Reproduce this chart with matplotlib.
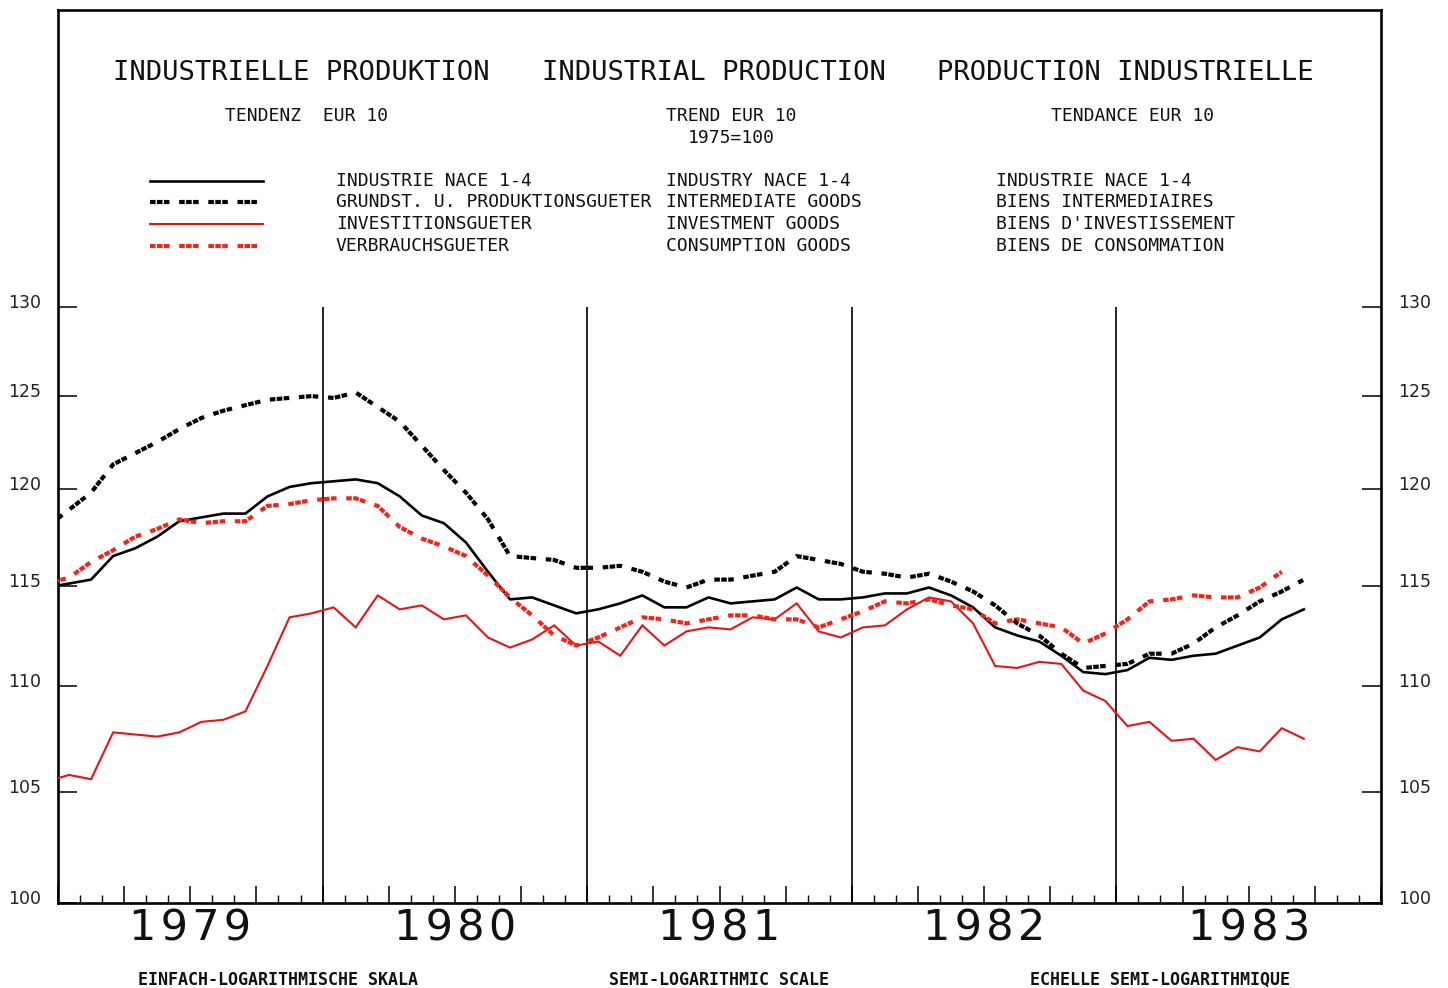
import numpy as np
import matplotlib
matplotlib.use("Agg")
import matplotlib.pyplot as plt
import pandas as pd
from matplotlib.lines import Line2D
from matplotlib.transforms import offset_copy
from matplotlib.ticker import NullLocator

plt.rcParams['lines.scale_dashes'] = False

# ---------------- data (index 1975 = 100, trend, EUR 10) ----------------
months = pd.period_range('1978-12', '1983-09', freq='M')

industry = [114.9, 115.1, 115.3, 116.5, 116.9, 117.5, 118.3, 118.5, 118.7, 118.7,
            119.6, 120.1, 120.3, 120.4, 120.5, 120.3, 119.6, 118.6, 118.2, 117.2,
            115.7, 114.3, 114.4, 114.0, 113.6, 113.8, 114.1, 114.5, 113.9, 113.9,
            114.4, 114.1, 114.2, 114.3, 114.9, 114.3, 114.3, 114.4, 114.6, 114.6,
            114.9, 114.5, 113.9, 112.9, 112.5, 112.2, 111.5, 110.7, 110.6, 110.8,
            111.4, 111.3, 111.5, 111.6, 112.0, 112.4, 113.3, 113.8]

intermediate = [118.0, 118.9, 119.8, 121.3, 121.9, 122.5, 123.2, 123.8, 124.2, 124.5,
                124.8, 124.9, 125.0, 124.9, 125.2, 124.4, 123.6, 122.3, 121.0, 119.8,
                118.4, 116.5, 116.4, 116.3, 115.9, 115.9, 116.0, 115.7, 115.2, 114.9,
                115.3, 115.3, 115.5, 115.7, 116.5, 116.3, 116.1, 115.7, 115.6, 115.4,
                115.6, 115.2, 114.7, 114.0, 113.1, 112.5, 111.6, 110.9, 111.0, 111.1,
                111.6, 111.6, 112.1, 112.9, 113.5, 114.2, 114.7, 115.3]

investment = [105.5, 105.8, 105.6, 107.8, 107.7, 107.6, 107.8, 108.3, 108.4, 108.8,
              111.0, 113.4, 113.6, 113.9, 112.9, 114.5, 113.8, 114.0, 113.3, 113.5,
              112.4, 111.9, 112.3, 113.0, 112.0, 112.2, 111.5, 113.0, 112.0, 112.7,
              112.9, 112.8, 113.4, 113.3, 114.1, 112.7, 112.4, 112.9, 113.0, 113.8,
              114.4, 114.2, 113.1, 111.0, 110.9, 111.2, 111.1, 109.8, 109.3, 108.1,
              108.3, 107.4, 107.5, 106.5, 107.1, 106.9, 108.0, 107.5]

consumption = [115.1, 115.4, 116.2, 116.8, 117.5, 117.9, 118.4, 118.2, 118.3, 118.3,
               119.1, 119.2, 119.4, 119.5, 119.5, 119.1, 118.0, 117.4, 117.0, 116.5,
               115.5, 114.4, 113.5, 112.5, 112.0, 112.4, 112.9, 113.4, 113.3, 113.1,
               113.3, 113.5, 113.5, 113.3, 113.3, 112.9, 113.3, 113.7, 114.2, 114.1,
               114.3, 114.0, 113.8, 113.1, 113.3, 113.1, 112.9, 112.1, 112.6, 113.3,
               114.2, 114.3, 114.5, 114.4, 114.4, 114.9, 115.7]

years = [1979, 1980, 1981, 1982, 1983]
ytick_values = [100, 105, 110, 115, 120, 125, 130]

# mid-month positions in decimal years
xpos = np.array([p.year + (p.month - 0.5) / 12 for p in months])

# ---------------- figure ----------------
W, H = 1448, 988
fig = plt.figure(figsize=(W / 100, H / 100), dpi=100)
fig.patch.set_facecolor('white')

def fx(px):
    return px / W

def fy(py):
    return 1 - py / H

ax = fig.add_axes([fx(58), fy(903), (1381 - 58) / W, (903 - 10) / H])
ax.set_yscale('log')
ax.set_xlim(1979, 1984)
ax.set_ylim(100, 148.16)
for s in ax.spines.values():
    s.set_linewidth(1.9)
    s.set_color('black')

RED = '#e5141a'
RED2 = '#f0261c'
DASH = (0, (4.0, 1.0, 4.0, 1.0, 4.0, 7.0))

ax.plot(xpos, investment, color=RED, lw=1.5, zorder=3, solid_joinstyle='miter')
ax.plot(xpos, industry, color='black', lw=1.9, zorder=4)
ax.plot(xpos[:len(consumption)], consumption, color=RED2, lw=3.0,
        linestyle=DASH, zorder=5, dash_capstyle='butt')
ax.plot(xpos, intermediate, color='black', lw=3.0, linestyle=DASH, zorder=6,
        dash_capstyle='butt')

# year separators
ax.vlines(years[1:], 100, 130, color='black', lw=1.2, zorder=2)

# y ticks (inside, both sides) with manual labels
ax.yaxis.set_minor_locator(NullLocator())
ax.set_yticks(ytick_values)
ax.tick_params(axis='y', which='major', direction='in', length=14, width=1.1,
               left=True, right=True, labelleft=False, labelright=False)
ty = offset_copy(ax.get_yaxis_transform(), fig=fig, x=0, y=4, units='dots')
for v in ytick_values:
    ax.text(-0.0125, v, str(v), transform=ty, ha='right', va='center',
            fontsize=12.5, family='DejaVu Sans', color='#222222')
    ax.text(1.0128, v, str(v), transform=ty, ha='left', va='center',
            fontsize=12.5, family='DejaVu Sans', color='#222222')

# x ticks: months (minor) and quarters (major)
ax.set_xticks(np.arange(1979, 1984.001, 0.25))
ax.set_xticks(np.arange(1979, 1984.001, 1 / 12), minor=True)
ax.tick_params(axis='x', which='major', direction='in', length=12, width=1.1,
               labelbottom=False, top=False)
ax.tick_params(axis='x', which='minor', direction='in', length=5.5, width=1.0,
               top=False)

tx = ax.get_xaxis_transform()
for yr in years:
    ax.text(yr + 0.5, -0.029, '\u200a'.join(str(yr)), transform=tx, ha='center',
            va='center', fontsize=31, family='DejaVu Sans', color='#111111')

# ---------------- header ----------------
MONO = 'DejaVu Sans Mono'
for txt, cx in [('INDUSTRIELLE PRODUKTION', 301), ('INDUSTRIAL PRODUCTION', 714),
                ('PRODUCTION INDUSTRIELLE', 1125)]:
    fig.text(fx(cx), fy(73), txt, ha='center', va='center', fontsize=19.5,
             family=MONO, color='#111111')

for txt, cx, cy in [('TENDENZ  EUR 10', 307, 116), ('TREND EUR 10', 731, 116),
                    ('1975=100', 731, 138), ('TENDANCE EUR 10', 1133, 116)]:
    fig.text(fx(cx), fy(cy), txt, ha='center', va='center', fontsize=13,
             family=MONO, color='#111111')

# ---------------- legend ----------------
leg_de = ['INDUSTRIE NACE 1-4', 'GRUNDST. U. PRODUKTIONSGUETER',
          'INVESTITIONSGUETER', 'VERBRAUCHSGUETER']
leg_en = ['INDUSTRY NACE 1-4', 'INTERMEDIATE GOODS', 'INVESTMENT GOODS',
          'CONSUMPTION GOODS']
leg_fr = ['INDUSTRIE NACE 1-4', 'BIENS INTERMEDIAIRES', "BIENS D'INVESTISSEMENT",
          'BIENS DE CONSOMMATION']
leg_styles = [dict(color='black', lw=1.9, linestyle='-'),
              dict(color='black', lw=3.0, linestyle=DASH),
              dict(color=RED, lw=1.5, linestyle='-'),
              dict(color=RED2, lw=3.0, linestyle=DASH)]
rows_y = [181, 202, 224, 246]
for i, ry in enumerate(rows_y):
    fig.add_artist(Line2D([fx(150), fx(263)], [fy(ry), fy(ry)],
                          transform=fig.transFigure, dash_capstyle='butt',
                          **leg_styles[i]))
    fig.text(fx(336), fy(ry), leg_de[i], ha='left', va='center', fontsize=13,
             family=MONO, color='#111111')
    fig.text(fx(666), fy(ry), leg_en[i], ha='left', va='center', fontsize=13,
             family=MONO, color='#111111')
    fig.text(fx(996), fy(ry), leg_fr[i], ha='left', va='center', fontsize=13,
             family=MONO, color='#111111')

# ---------------- footer ----------------
for txt, cx in [('EINFACH-LOGARITHMISCHE SKALA', 278), ('SEMI-LOGARITHMIC SCALE', 719),
                ('ECHELLE SEMI-LOGARITHMIQUE', 1160)]:
    fig.text(fx(cx), fy(980), txt, ha='center', va='center', fontsize=12,
             family=MONO, fontweight='bold', color='#111111')

fig.savefig('out.png', dpi=100, facecolor='white')
